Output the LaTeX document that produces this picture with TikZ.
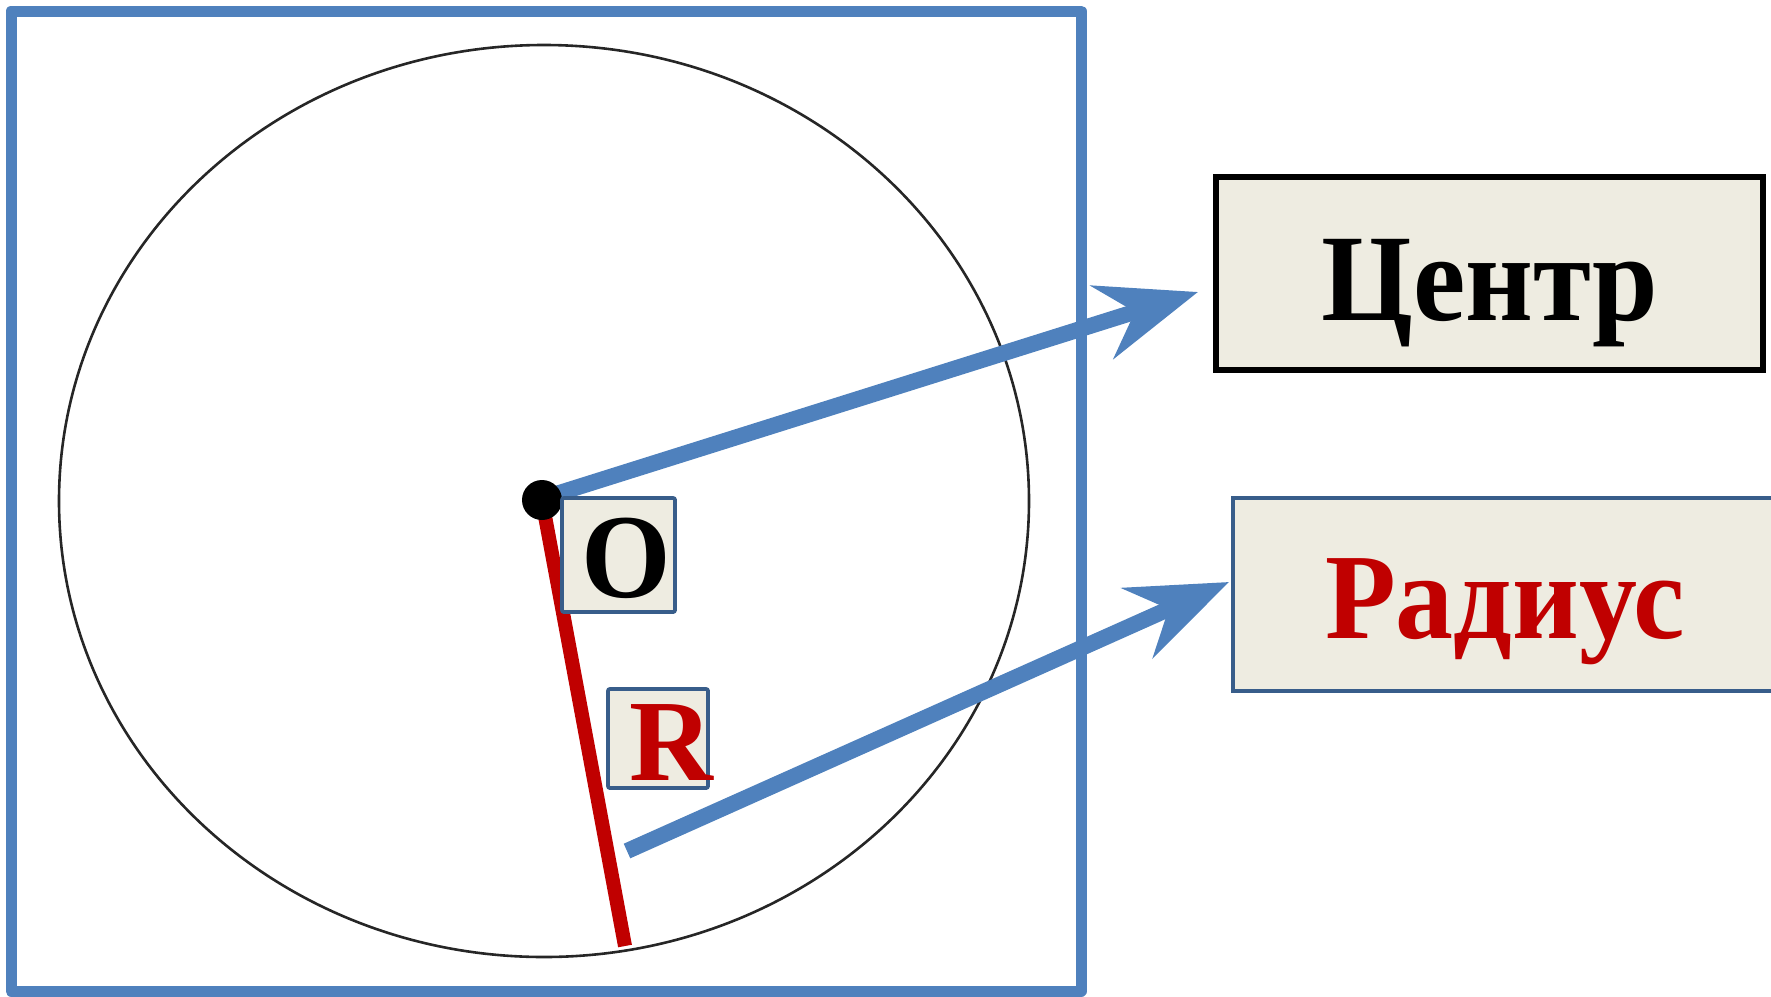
\documentclass[tikz,border=0pt]{standalone}
\usepackage{fontspec}
\setmainfont{Liberation Serif}[BoldFont={Liberation Serif Bold}]
\usetikzlibrary{arrows.meta,calc}
\definecolor{frameblue}{HTML}{4F81BD}
\definecolor{boxfill}{HTML}{EEECE1}
\definecolor{boxline}{HTML}{385D8A}
\definecolor{radred}{HTML}{C00000}
\begin{document}
\begin{tikzpicture}[x=0.5pt,y=-0.5pt,
  outerframe/.style={draw=frameblue, line width=5.5pt, line join=round},
  circ/.style={draw=black!85, line width=1.3pt},
  radline/.style={draw=radred, line width=7pt},
  pointer/.style={draw=frameblue, line width=8pt, -{Stealth[length=50pt,width=38pt,inset=17pt]}},
  smallbox/.style={draw=boxline, fill=boxfill, line width=1.9pt, inner sep=0pt, rounded corners=1pt},
  bigbox/.style={fill=boxfill, inner sep=0pt, minimum width=273.5pt, minimum height=96.5pt},
  lbl/.style={font=\bfseries\fontsize{#1}{#1}\selectfont, inner sep=0pt, anchor=base}
]
\useasboundingbox (0,0) rectangle (1771,996);
% frame
\draw[outerframe] (11,11) rectangle (1081,991);
% circle
\draw[circ] (544,501) ellipse [x radius=485, y radius=456];
% centre and radius end
\coordinate (O) at (542,500);
\coordinate (Rend) at (625,946);
\draw[radline] (O) -- (Rend);
% boxes on the right
\node[bigbox, draw=black, line width=3pt] (centbox) at (1489.5,273.5) {};
\node[bigbox, draw=boxline, line width=2pt] (radbox) at (1506.5,594.5) {};
% arrows
\coordinate (a1s) at (556,494);
\coordinate (a2s) at (627,851);
\draw[pointer] (a1s) -- ($(centbox.west)+(-15,18.5)$);
\draw[pointer] (a2s) -- ($(radbox.west)+(-2,-12.5)$);
% centre dot
\fill[black] (O) circle [radius=10pt];
% small label boxes
\node[smallbox, minimum width=56.5pt, minimum height=57pt] (obox) at (618.5,555) {};
\node[lbl=60pt] (otext) at (626,597) {\scalebox{0.96}[1]{O}};
\node[smallbox, minimum width=50pt, minimum height=49.5pt] (rbox) at (658,738.5) {};
\node[lbl=58pt, text=radred] (rtext) at (671,780) {R};
% texts
\node[lbl=62pt] (centtext) at (1490,320) {\scalebox{0.95}[1]{Центр}};
\node[lbl=61pt, text=radred] (radtext) at (1505,638) {\scalebox{0.95}[1]{Радиус}};
\end{tikzpicture}
\end{document}
